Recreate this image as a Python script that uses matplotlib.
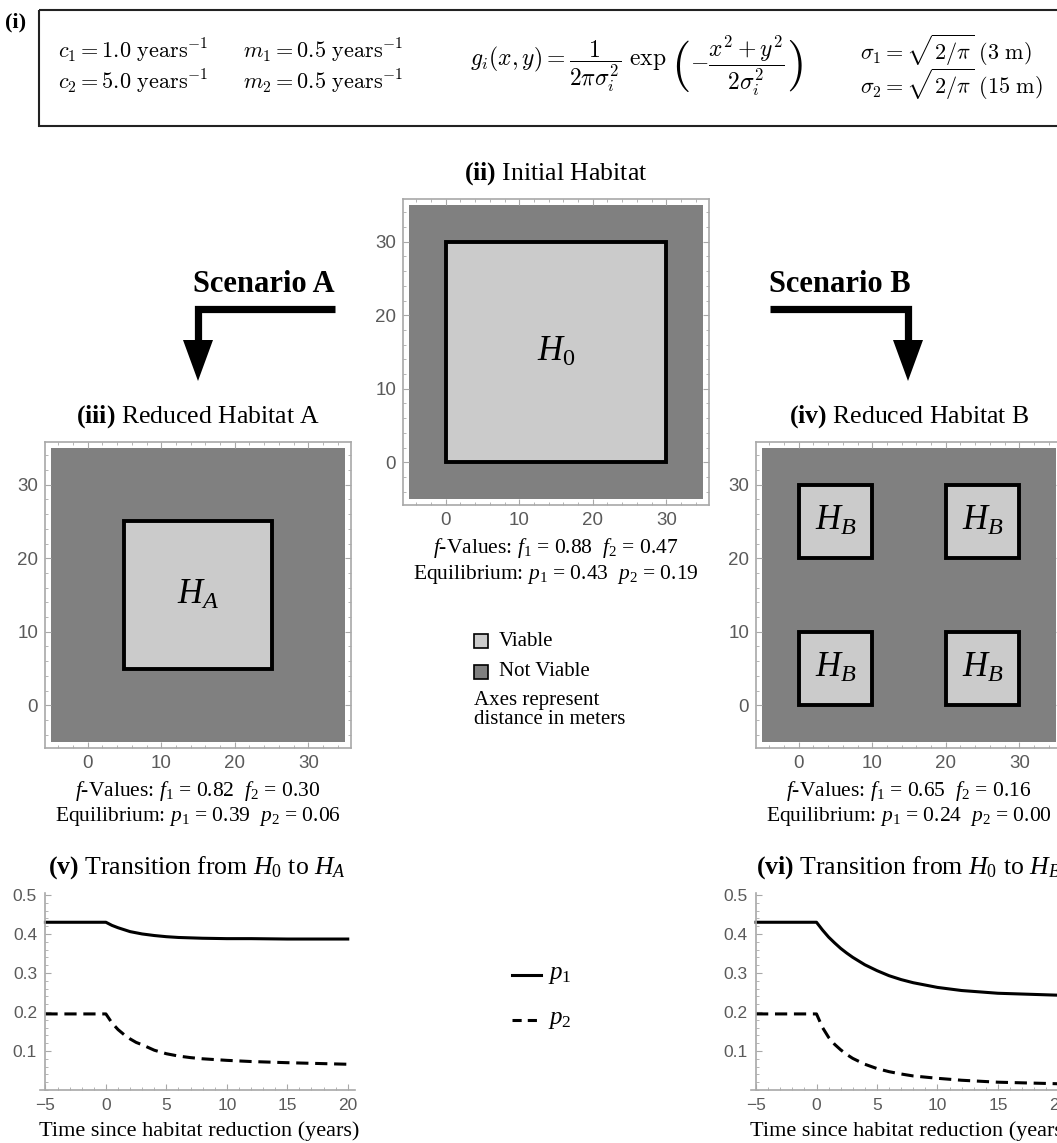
import matplotlib
matplotlib.use("Agg")
import matplotlib.pyplot as plt
from matplotlib.patches import Rectangle, Polygon
from matplotlib.ticker import MultipleLocator

# ---- data ----
background = (-5, -5, 40, 40)
squares_0 = [(0, 0, 30, 30)]
squares_A = [(5, 5, 20, 20)]
squares_B = [(0, 0, 10, 10), (20, 0, 10, 10), (0, 20, 10, 10), (20, 20, 10, 10)]

f1_vals = [0.88, 0.82, 0.65]
f2_vals = [0.47, 0.30, 0.16]
eq_p1 = [0.43, 0.39, 0.24]
eq_p2 = [0.19, 0.06, 0.00]

t_years = [-5, 0, 0.5, 1, 1.5, 2, 2.5, 3, 4, 5, 6, 7, 8, 10, 12, 15, 20]
p1_A = [0.43, 0.43, 0.422, 0.416, 0.411, 0.406, 0.403, 0.400, 0.396, 0.393,
        0.391, 0.390, 0.389, 0.388, 0.388, 0.387, 0.387]
p2_A = [0.195, 0.195, 0.172, 0.155, 0.142, 0.131, 0.122, 0.116, 0.102, 0.093,
        0.087, 0.083, 0.080, 0.076, 0.073, 0.070, 0.066]
p1_B = [0.43, 0.43, 0.410, 0.392, 0.377, 0.363, 0.351, 0.340, 0.321, 0.306,
        0.293, 0.283, 0.275, 0.263, 0.255, 0.248, 0.243]
p2_B = [0.195, 0.195, 0.160, 0.135, 0.117, 0.103, 0.091, 0.081, 0.066, 0.055,
        0.047, 0.041, 0.036, 0.030, 0.025, 0.020, 0.016]

# ---- style ----
plt.rcParams['font.family'] = ['Liberation Serif', 'DejaVu Serif']
plt.rcParams['mathtext.fontset'] = 'custom'
plt.rcParams['mathtext.rm'] = 'Liberation Serif'
plt.rcParams['mathtext.it'] = 'Liberation Serif:italic'
plt.rcParams['mathtext.bf'] = 'Liberation Serif:bold'

dark = '#808080'
light = '#cbcbcb'
frame_col = '#a8a8a8'
tick_col = '#5a5a5a'

W, H = 1057, 1143
fig = plt.figure(figsize=(W / 100, H / 100), dpi=100)


def px_box(left, top, w, h):
    return [left / W, 1 - (top + h) / H, w / W, h / H]


ov = fig.add_axes([0, 0, 1, 1])
ov.set_xlim(0, W)
ov.set_ylim(H, 0)
ov.axis('off')


def habitat_panel(left, top, squares, label, title, k):
    size = 306
    ax = fig.add_axes(px_box(left, top, size, size))
    bx, by, bw, bh = background
    ax.add_patch(Rectangle((bx, by), bw, bh, fc=dark, ec='none'))
    for (x0, y0, w, h) in squares:
        ax.add_patch(Rectangle((x0, y0), w, h, fc=light, ec='black', lw=2.8,
                               joinstyle='miter'))
        ax.text(x0 + w / 2, y0 + h / 2, label, ha='center', va='center', fontsize=25)
    ax.set_xlim(-5.8, 35.8)
    ax.set_ylim(-5.8, 35.8)
    ax.set_xticks([0, 10, 20, 30])
    ax.set_yticks([0, 10, 20, 30])
    ax.xaxis.set_minor_locator(MultipleLocator(2))
    ax.yaxis.set_minor_locator(MultipleLocator(2))
    ax.tick_params(which='both', direction='in', top=True, right=True,
                   color=frame_col, labelcolor=tick_col, labelsize=13.5,
                   labelfontfamily='Liberation Sans')
    ax.tick_params(which='major', length=4, width=0.8, pad=5)
    ax.tick_params(which='minor', length=2.2, width=0.6)
    for sp in ax.spines.values():
        sp.set_color(frame_col)
        sp.set_linewidth(1.2)
    cx = left + size / 2
    ov.text(cx, top - 25, title, ha='center', va='center', fontsize=18.5)
    ov.text(cx, top + size + 43,
            r"$f$-Values: $f_{\mathit{1}}$ = %.2f  $f_{\mathit{2}}$ = %.2f" % (f1_vals[k], f2_vals[k]),
            ha='center', va='center', fontsize=15.5)
    ov.text(cx, top + size + 69,
            r"Equilibrium: $p_{\mathit{1}}$ = %.2f  $p_{\mathit{2}}$ = %.2f" % (eq_p1[k], eq_p2[k]),
            ha='center', va='center', fontsize=15.5)


def time_panel(left, p1, p2, title):
    top, w, h = 893, 315, 197
    ax = fig.add_axes(px_box(left, top, w, h))
    ax.plot(t_years, p1, color='black', lw=2.2)
    ax.plot(t_years, p2, color='black', lw=2.2, ls='--', dashes=(4, 2.2))
    ax.set_xlim(-5.45, 20.6)
    ax.set_ylim(0, 0.505)
    ax.spines['top'].set_visible(False)
    ax.spines['right'].set_visible(False)
    ax.spines['left'].set_position(('data', -5))
    for sp in ('left', 'bottom'):
        ax.spines[sp].set_color(frame_col)
        ax.spines[sp].set_linewidth(1.2)
    ax.set_xticks([-5, 0, 5, 10, 15, 20])
    ax.set_yticks([0.1, 0.2, 0.3, 0.4, 0.5])
    ax.xaxis.set_minor_locator(MultipleLocator(1))
    ax.yaxis.set_minor_locator(MultipleLocator(0.02))
    ax.tick_params(which='both', direction='in', color=frame_col,
                   labelcolor=tick_col, labelsize=12.5,
                   labelfontfamily='Liberation Sans')
    ax.tick_params(which='major', length=4, width=0.8, pad=6)
    ax.tick_params(which='minor', length=2.2, width=0.6)
    ov.text(left + w / 2, top - 25, title, ha='center', va='center', fontsize=18.5)
    ov.text(left + w / 2 + 2, 1131, "Time since habitat reduction (years)",
            ha='center', va='center', fontsize=16)


habitat_panel(403, 199, squares_0, r"$H_{\mathit{0}}$", r"$\mathbf{(ii)}$ Initial Habitat", 0)
habitat_panel(45, 442, squares_A, r"$H_A$", r"$\mathbf{(iii)}$ Reduced Habitat A", 1)
habitat_panel(756, 442, squares_B, r"$H_B$", r"$\mathbf{(iv)}$ Reduced Habitat B", 2)

time_panel(40, p1_A, p2_A, r"$\mathbf{(v)}$ Transition from $H_{\mathit{0}}$ to $H_A$")
time_panel(750.6, p1_B, p2_B, r"$\mathbf{(vi)}$ Transition from $H_{\mathit{0}}$ to $H_B$")

# ---- panel (i): parameter box ----
ov.add_patch(Rectangle((39, 10), 1100, 116, fill=False, ec='#222222', lw=1.5))
ov.text(5, 22, "(i)", fontsize=16, fontweight='bold', ha='left', va='center')
cm = dict(math_fontfamily='cm', fontsize=16, va='center', ha='left')
ov.text(58, 51, r"$c_1 = 1.0\ \mathrm{years}^{-1}$", **cm)
ov.text(58, 82, r"$c_2 = 5.0\ \mathrm{years}^{-1}$", **cm)
ov.text(243, 51, r"$m_1 = 0.5\ \mathrm{years}^{-1}$", **cm)
ov.text(243, 82, r"$m_2 = 0.5\ \mathrm{years}^{-1}$", **cm)
ov.text(860, 50, r"$\sigma_1 = \sqrt{2/\pi}\ (3\ \mathrm{m})$", **cm)
ov.text(860, 84, r"$\sigma_2 = \sqrt{2/\pi}\ (15\ \mathrm{m})$", **cm)

# formula built from pieces so the tall brackets can be drawn separately
renderer = fig.canvas.get_renderer()
x_cur = 470
for piece, size, gap in [(r"$g_i(x,y) = \dfrac{1}{2\pi\sigma_i^2}\ \exp$", 17, 5),
                         (r"$($", 36, 0),
                         (r"$-\dfrac{x^2+y^2}{2\sigma_i^2}$", 17, 1),
                         (r"$)$", 36, 0)]:
    t = ov.text(x_cur, 66, piece, math_fontfamily='cm', fontsize=size,
                va='center', ha='left')
    x_cur = t.get_window_extent(renderer).x1 + gap

# ---- scenario arrows ----
ov.text(264, 285, "Scenario A", fontsize=22, fontweight='bold', ha='center', va='center')
ov.plot([335, 198, 198], [309, 309, 342], color='black', lw=5.2,
        solid_joinstyle='miter', solid_capstyle='butt')
ov.add_patch(Polygon([(183, 340), (213, 340), (198, 381)], closed=True, fc='black', ec='none'))
ov.text(840, 285, "Scenario B", fontsize=22, fontweight='bold', ha='center', va='center')
ov.plot([770, 908, 908], [309, 309, 342], color='black', lw=5.2,
        solid_joinstyle='miter', solid_capstyle='butt')
ov.add_patch(Polygon([(893, 340), (923, 340), (908, 381)], closed=True, fc='black', ec='none'))

# ---- middle legends ----
ov.add_patch(Rectangle((474, 634), 14, 14, fc=light, ec='black', lw=1.2))
ov.text(499, 641, "Viable", fontsize=15, ha='left', va='center')
ov.add_patch(Rectangle((474, 665), 14, 14, fc=dark, ec='black', lw=1.2))
ov.text(499, 672, "Not Viable", fontsize=15, ha='left', va='center')
ov.text(474, 700, "Axes represent", fontsize=15, ha='left', va='center')
ov.text(474, 719, "distance in meters", fontsize=15, ha='left', va='center')

ov.plot([512, 541], [975, 975], color='black', lw=2.2)
ov.text(548, 975, r"$p_{\mathit{1}}$", fontsize=18, ha='left', va='center')
ov.plot([512, 541], [1020, 1020], color='black', lw=2.2, ls='--', dashes=(3, 2))
ov.text(548, 1020, r"$p_{\mathit{2}}$", fontsize=18, ha='left', va='center')

fig.savefig("out.png", dpi=100)
